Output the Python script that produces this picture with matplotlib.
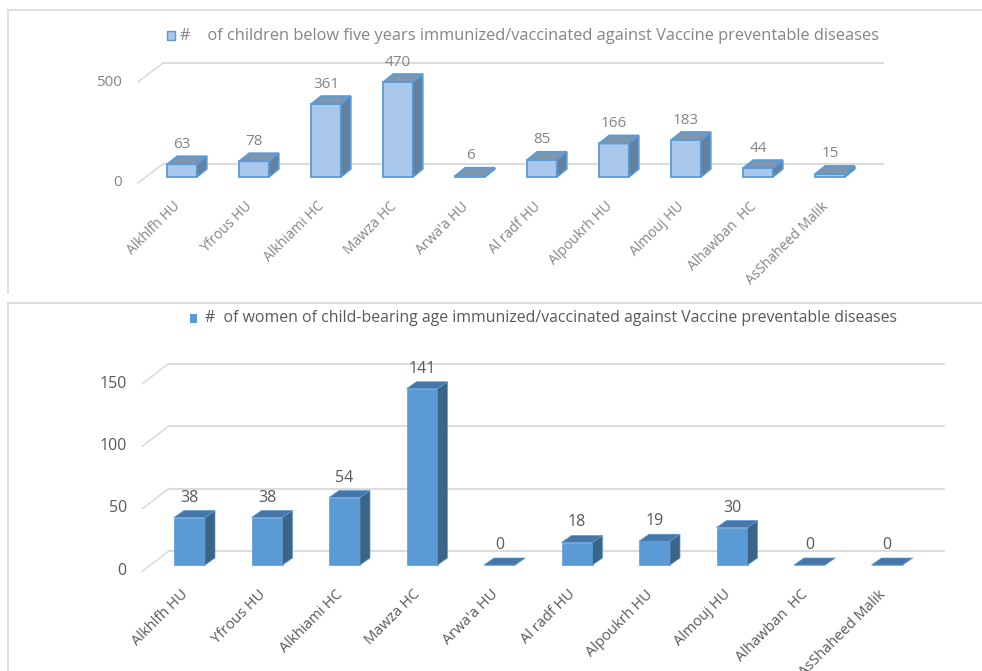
import matplotlib
matplotlib.use("Agg")
import matplotlib.pyplot as plt
from matplotlib.patches import Polygon, Rectangle
from matplotlib.lines import Line2D

# data
sites = ["Alkhlfh HU", "Yfrous HU", "Alkhiami HC", "Mawza HC", "Arwa'a HU",
         "Al radf HU", "Alpoukrh HU", "Almouj HU", "Alhawban  HC", "AsShaheed Malik"]
children = [63, 78, 361, 470, 6, 85, 166, 183, 44, 15]
women = [38, 38, 54, 141, 0, 18, 19, 30, 0, 0]
children_ticks = [0, 500]
women_ticks = [0, 50, 100, 150]
children_title = "#    of children below five years immunized/vaccinated against Vaccine preventable diseases"
women_title = "#  of women of child-bearing age immunized/vaccinated against Vaccine preventable diseases"

plt.rcParams['font.family'] = ['Open Sans', 'DejaVu Sans']

W, H = 982, 671
fig = plt.figure(figsize=(W / 100, H / 100), dpi=100)


def fx(px):
    return px / W


def fy(py):
    return 1 - py / H


def chart(values, ticks, box, x0, step, y0, scale, style):
    L, R, T, B = box
    ax = fig.add_axes([fx(L), fy(B), (R - L) / W, (B - T) / H])
    ax.set_xlim((L - x0) / step, (R - x0) / step)
    ax.set_ylim((y0 - B) / scale, (y0 - T) / scale)
    ax.axis('off')

    def off(dx, dy):  # pixel offset (dy down) -> data units
        return dx / step, -dy / scale

    bx, by = off(*style['back'])
    fxo, fyo = off(*style['front'])
    ddx, ddy = off(*style['depth'])
    n = len(values)
    w = style['width']

    # back wall gridlines + the slanted side wall edge
    for t in ticks:
        ax.plot([-0.5 + bx, n - 0.5 + bx], [t + by, t + by], color='#d9d9d9', lw=1.3, zorder=1)
        ax.plot([-0.5 + fxo, -0.5 + bx], [t + fyo, t + by], color='#d9d9d9', lw=1.1, zorder=1)
        lx, ly = off(-16, 0)
        ax.text(-0.5 + fxo + lx, t + fyo, str(t), ha='right', va='center',
                fontsize=style['fs'], color=style['text'])

    for i, v in enumerate(values):
        ax.bar(i, v, width=w, color=style['face'], edgecolor=style['edge'],
               linewidth=style['lw'], zorder=3)
        side = [(i + w / 2, 0), (i + w / 2 + ddx, ddy), (i + w / 2 + ddx, v + ddy), (i + w / 2, v)]
        top = [(i - w / 2, v), (i + w / 2, v), (i + w / 2 + ddx, v + ddy), (i - w / 2 + ddx, v + ddy)]
        ax.add_patch(Polygon(side, closed=True, facecolor=style['side'], edgecolor=style['edge'],
                             linewidth=style['lw'], zorder=3))
        ax.add_patch(Polygon(top, closed=True, facecolor=style['top'], edgecolor=style['edge'],
                             linewidth=style['lw'], zorder=3))
        ox, oy = off(0, -20)
        ax.text(i + ox, v + oy, str(v), ha='center', va='center',
                fontsize=style['fs'], color=style['text'], zorder=4)
        cx, cy = off(-9, 22)
        ax.text(i + cx, cy, sites[i], rotation=45, rotation_mode='anchor',
                ha='right', va='top', fontsize=style['cfs'], color=style['text'])
    return ax


top_style = dict(back=(17, -13), front=(-8, 6), depth=(10, -8), width=0.41,
                 face='#a9c8ec', side='#62809f', top='#7f95ad', edge='#5b9bd5', lw=1.3,
                 fs=11, cfs=10, text='#858585')
bottom_style = dict(back=(18, -14), front=(-8, 6), depth=(10, -7), width=0.4,
                    face='#5b9bd5', side='#3b6489', top='#4677a6', edge='#5b9bd5', lw=0.5,
                    fs=11.5, cfs=10.5, text='#595959')

chart(children, children_ticks, (90, 960, 45, 280), 182, 72, 177, 0.202, top_style)
chart(women, women_ticks, (90, 975, 335, 671), 189.5, 77.5, 565, 1.25, bottom_style)

# panel frames
for xs, ys in [([8, 982], [10, 10]), ([8, 8], [10, 293]), ([8, 982], [303, 303]), ([8, 8], [303, 671])]:
    fig.add_artist(Line2D([fx(x) for x in xs], [fy(y) for y in ys], color='#d9d9d9', lw=1.2))

# legends
fig.add_artist(Rectangle((fx(167), fy(40)), 8 / W, 9 / H, facecolor='#a9c8ec',
                         edgecolor='#5b9bd5', lw=1))
fig.text(fx(180), fy(35.5), children_title, ha='left', va='center', fontsize=11.8, color='#858585')
fig.add_artist(Rectangle((fx(190), fy(323)), 7 / W, 9 / H, facecolor='#5b9bd5',
                         edgecolor='none'))
fig.text(fx(205), fy(318.5), women_title, ha='left', va='center', fontsize=11.4, color='#595959')

fig.savefig('out.png', dpi=100)
